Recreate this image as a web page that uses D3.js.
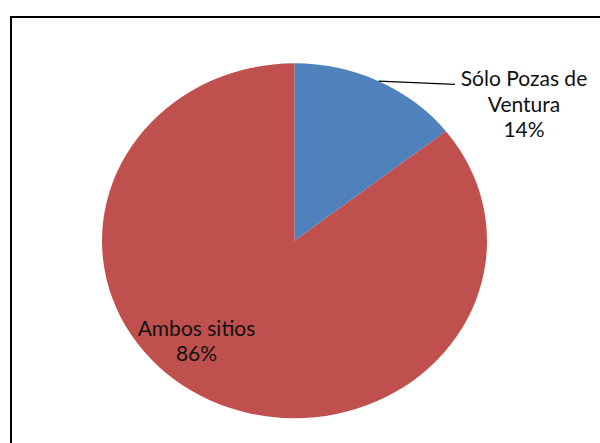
<!DOCTYPE html>
<html>
<head>
<meta charset="utf-8">
<script src="https://cdn.jsdelivr.net/npm/d3@7"></script>
<style>
  body { margin: 0; background: #fff; }
  .slice-label { font-family: Lato, "Noto Sans", sans-serif; font-size: 21px; fill: #111; }
</style>
</head>
<body>
<div id="wrapper"></div>
<script>
// data
const categories = ["Sólo Pozas de Ventura", "Ambos sitios"]
const labelLines = [["Sólo Pozas de", "Ventura"], ["Ambos sitios"]]
const shares = [0.144, 0.856]
const colors = ["#4F81BD", "#C0504D"]

function drawPie() {
  const dimensions = { width: 600, height: 443 }
  const center = { x: 294.5, y: 240.8 }
  const ry = 177.5
  const rx = 192.5

  const wrapper = d3.select("#wrapper")
    .append("svg")
      .attr("width", dimensions.width)
      .attr("height", dimensions.height)

  // chart frame (runs off the right and bottom)
  wrapper.append("rect")
      .attr("x", 11)
      .attr("y", 17)
      .attr("width", 700)
      .attr("height", 600)
      .attr("fill", "none")
      .attr("stroke", "#000")
      .attr("stroke-width", 2)

  const dataset = categories.map((c, i) => ({ category: c, value: shares[i], lines: labelLines[i], color: colors[i] }))

  const pieGenerator = d3.pie()
    .sort(null)
    .value(d => d.value)
  const arcs = pieGenerator(dataset)

  const arcGenerator = d3.arc()
    .innerRadius(0)
    .outerRadius(ry)

  // pie is slightly stretched horizontally in the original
  const pie = wrapper.append("g")
      .attr("transform", `translate(${center.x},${center.y}) scale(${rx / ry},1)`)

  pie.selectAll(".slice")
      .data(arcs)
    .enter().append("path")
      .attr("class", "slice")
      .attr("d", arcGenerator)
      .attr("fill", d => d.data.color)

  const fmt = d3.format(".0%")

  // outside label with leader line for the small slice
  const small = arcs[0]
  const midAngle = (small.startAngle + small.endAngle) / 2
  const edge = [center.x + rx * Math.sin(midAngle), center.y - ry * Math.cos(midAngle)]
  wrapper.append("path")
      .attr("d", `M${edge[0]},${edge[1]} L455,84.3`)
      .attr("fill", "none")
      .attr("stroke", "#000")
      .attr("stroke-width", 1.3)

  const lbl1 = wrapper.append("text")
      .attr("class", "slice-label")
      .attr("text-anchor", "middle")
  small.data.lines.concat(fmt(small.data.value)).forEach((t, i) => {
    lbl1.append("tspan")
      .attr("x", 524)
      .attr("y", 86 + i * 25.7)
      .text(t)
  })

  // inside label for the big slice
  const big = arcs[1]
  const lbl2 = wrapper.append("text")
      .attr("class", "slice-label")
      .attr("text-anchor", "middle")
  big.data.lines.concat(fmt(big.data.value)).forEach((t, i) => {
    lbl2.append("tspan")
      .attr("x", 196.5)
      .attr("y", 335.5 + i * 25.5)
      .text(t)
  })
}
drawPie()
</script>
</body>
</html>
